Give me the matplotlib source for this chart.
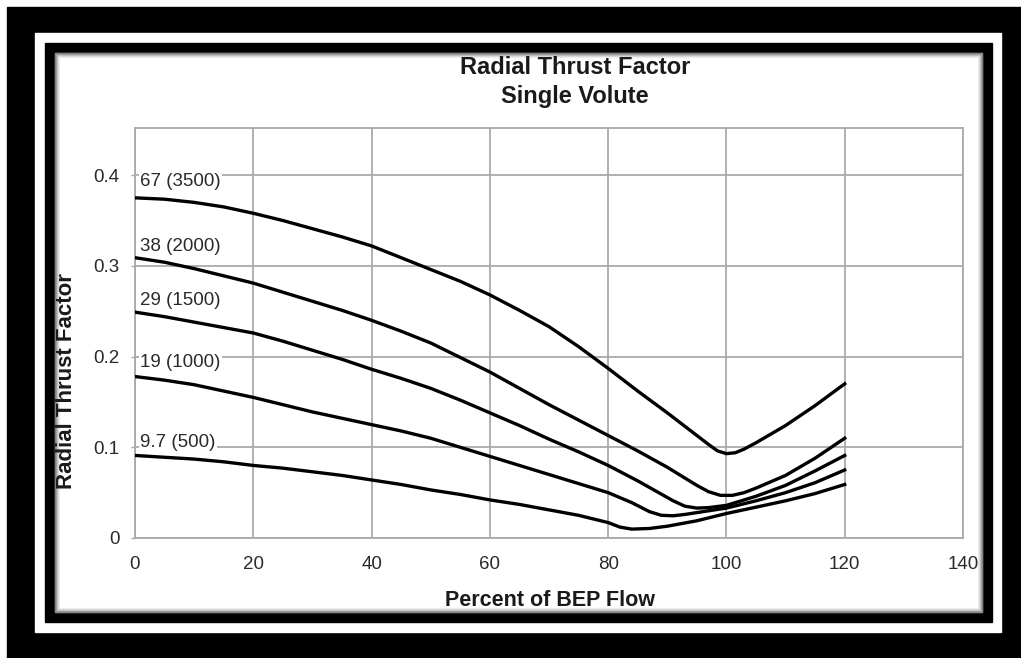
import matplotlib
matplotlib.use("Agg")
import matplotlib.pyplot as plt
from matplotlib.patches import Rectangle

plt.rcParams['font.family'] = ['Liberation Sans', 'DejaVu Sans']

# curves: percent of BEP flow vs radial thrust factor
x_3500 = [0, 5, 10, 15, 20, 25, 30, 35, 40, 45, 50, 55, 60, 65, 70, 75, 80, 85, 90, 93, 95,
          97, 98.5, 100, 101.5, 103, 105, 110, 115, 120]
y_3500 = [0.375, 0.3735, 0.370, 0.365, 0.358, 0.350, 0.341, 0.332, 0.322, 0.309, 0.296, 0.283,
          0.268, 0.251, 0.233, 0.211, 0.187, 0.162, 0.138, 0.123, 0.113, 0.103, 0.096, 0.093,
          0.094, 0.098, 0.105, 0.124, 0.146, 0.170]

x_2000 = [0, 5, 10, 15, 20, 25, 30, 35, 40, 45, 50, 55, 60, 65, 70, 75, 80, 85, 90, 93, 95,
          97, 99, 101, 103, 105, 110, 115, 120]
y_2000 = [0.309, 0.304, 0.297, 0.289, 0.281, 0.271, 0.261, 0.251, 0.240, 0.228, 0.215, 0.199,
          0.183, 0.165, 0.147, 0.130, 0.113, 0.096, 0.078, 0.066, 0.058, 0.051, 0.047, 0.047,
          0.050, 0.055, 0.069, 0.088, 0.110]

x_1500 = [0, 5, 10, 15, 20, 25, 30, 35, 40, 45, 50, 55, 60, 65, 70, 75, 80, 85, 88, 91, 93,
          95, 97, 100, 105, 110, 115, 120]
y_1500 = [0.249, 0.244, 0.238, 0.232, 0.226, 0.217, 0.207, 0.197, 0.186, 0.176, 0.165, 0.152,
          0.138, 0.124, 0.109, 0.095, 0.080, 0.063, 0.052, 0.041, 0.035, 0.033, 0.0335, 0.036,
          0.046, 0.058, 0.074, 0.091]

x_1000 = [0, 5, 10, 15, 20, 25, 30, 35, 40, 45, 50, 55, 60, 65, 70, 75, 80, 84, 87, 89, 91,
          93, 95, 100, 105, 110, 115, 120]
y_1000 = [0.178, 0.174, 0.169, 0.162, 0.155, 0.147, 0.139, 0.132, 0.125, 0.118, 0.110, 0.100,
          0.090, 0.080, 0.070, 0.060, 0.050, 0.039, 0.029, 0.025, 0.0245, 0.026, 0.028, 0.033,
          0.041, 0.050, 0.061, 0.075]

x_500 = [0, 5, 10, 15, 20, 25, 30, 35, 40, 45, 50, 55, 60, 65, 70, 75, 80, 82, 84, 87, 90,
         95, 100, 105, 110, 115, 120]
y_500 = [0.091, 0.089, 0.087, 0.084, 0.080, 0.077, 0.073, 0.069, 0.064, 0.059, 0.053, 0.048,
         0.042, 0.037, 0.031, 0.025, 0.017, 0.012, 0.0098, 0.0105, 0.013, 0.019, 0.027, 0.034,
         0.041, 0.049, 0.059]

curves = [(x_3500, y_3500), (x_2000, y_2000), (x_1500, y_1500), (x_1000, y_1000), (x_500, y_500)]
labels = ['67 (3500)', '38 (2000)', '29 (1500)', '19 (1000)', '9.7 (500)']
label_y = [0.393, 0.321, 0.262, 0.193, 0.105]

x_ticks = [0, 20, 40, 60, 80, 100, 120, 140]
y_ticks = [0, 0.1, 0.2, 0.3, 0.4]
y_tick_labels = ['0', '0.1', '0.2', '0.3', '0.4']

W, H = 1021, 658
fig = plt.figure(figsize=(W / 100, H / 100), dpi=100, facecolor='white')

# picture frame drawn in pixel coordinates
bg = fig.add_axes([0, 0, 1, 1], zorder=0)
bg.set_xlim(0, W)
bg.set_ylim(H, 0)
bg.axis('off')
bg.add_patch(Rectangle((7, 7), W - 7, H - 7, color='black'))
bg.add_patch(Rectangle((35, 33), 1001 - 35, 632 - 33, color='white'))
bg.add_patch(Rectangle((45, 43), 992 - 45, 622 - 43, color='black'))
bg.add_patch(Rectangle((55, 53), 982 - 55, 612 - 53, color='white'))
# soft inner shadow
for i, a in enumerate([0.45, 0.3, 0.18, 0.1, 0.05]):
    bg.add_patch(Rectangle((55 + i, 53 + i), 927 - 2 * i, 559 - 2 * i, fill=False,
                           edgecolor='black', alpha=a, lw=1))

ax = fig.add_axes([135 / W, (H - 538) / H, 828 / W, 410 / H], zorder=1)
ax.set_facecolor('white')
for xs, ys in curves:
    ax.plot(xs, ys, color='black', lw=2.4, solid_joinstyle='round', zorder=3)
for lab, yy in zip(labels, label_y):
    ax.text(0.9, yy, lab, ha='left', va='center', fontsize=13.5, color='#2a2a2a', zorder=2,
            bbox=dict(facecolor='white', edgecolor='none', pad=1.0))

ax.set_xlim(0, 140)
ax.set_ylim(0, 0.452)
ax.set_xticks(x_ticks)
ax.set_yticks(y_ticks)
ax.set_yticklabels(y_tick_labels)
ax.grid(True, color='#aaaaaa', lw=1.3, zorder=1)
ax.set_axisbelow(True)
for s in ax.spines.values():
    s.set_color('#aaaaaa')
    s.set_linewidth(1.3)
ax.tick_params(axis='x', length=0, pad=13, labelsize=13.5, labelcolor='#2a2a2a')
ax.tick_params(axis='y', length=3, width=1, color='#aaaaaa', pad=8, labelsize=13.5,
               labelcolor='#2a2a2a')

fig.text(575 / W, 1 - 68 / H, 'Radial Thrust Factor', ha='center', va='center',
         fontsize=17, fontweight='bold', color='#1a1a1a')
fig.text(575 / W, 1 - 96 / H, 'Single Volute', ha='center', va='center',
         fontsize=17, fontweight='bold', color='#1a1a1a')
fig.text(550 / W, 1 - 600 / H, 'Percent of BEP Flow', ha='center', va='center',
         fontsize=15.5, fontweight='bold', color='#1a1a1a')
fig.text(67 / W, 1 - 381 / H, 'Radial Thrust Factor', ha='center', va='center',
         rotation=90, fontsize=16, fontweight='bold', color='#1a1a1a')

fig.savefig('out.png', dpi=100, facecolor='white')
